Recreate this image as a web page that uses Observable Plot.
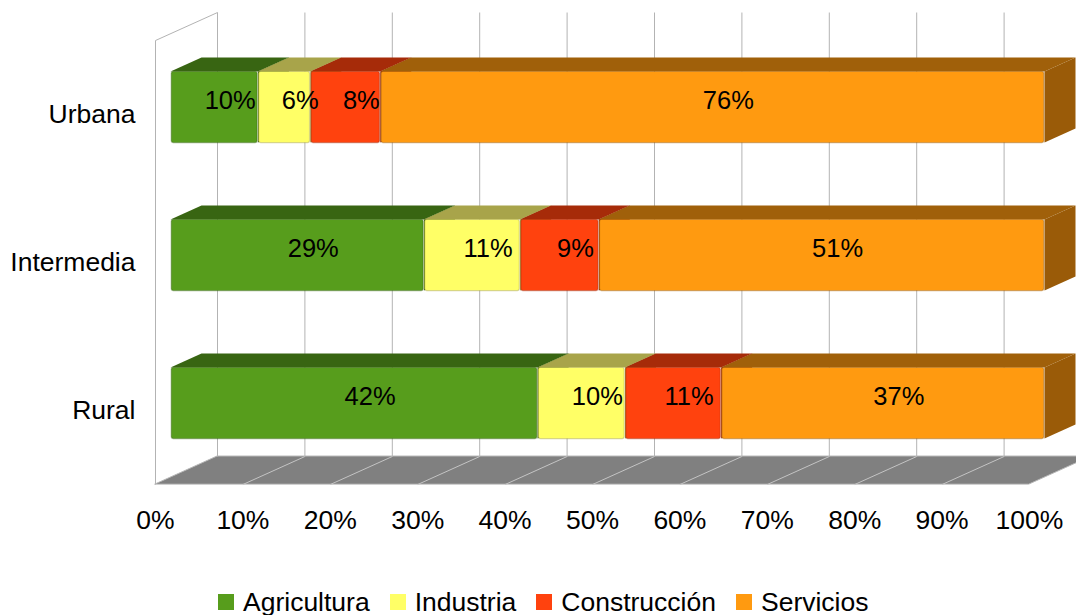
<!DOCTYPE html>
<html>
<head>
<meta charset="utf-8">
<script src="https://cdn.jsdelivr.net/npm/d3@7"></script>
<script src="https://cdn.jsdelivr.net/npm/@observablehq/plot@0.6"></script>
<style>
  html, body { margin: 0; background: #fff; font-family: "Liberation Sans", Arial, sans-serif; overflow: hidden; }
  #chart svg { display: block; }
  #legend { display: flex; align-items: center; height: 32px; line-height: 32px; padding-left: 218px; font-size: 26.5px; color: #000; }
  #legend .item { display: flex; align-items: center; margin-right: 20px; }
  #legend .sw { width: 16px; height: 16px; margin-right: 9px; }
</style>
</head>
<body>
<div id="chart"></div>
<div id="legend"></div>
<script>
// ---- data ----
const categories = ["Urbana", "Intermedia", "Rural"];
const sectors = ["Agricultura", "Industria", "Construcción", "Servicios"];
const agricultura = [10, 29, 42];
const industria = [6, 11, 10];
const construccion = [8, 9, 11];
const servicios = [76, 51, 37];
const xTicks = [0, 10, 20, 30, 40, 50, 60, 70, 80, 90, 100];
const xTickLabels = ["0%", "10%", "20%", "30%", "40%", "50%", "60%", "70%", "80%", "90%", "100%"];

// ---- styles ----
const frontColors = ["#579d1c", "#ffff66", "#ff420e", "#ff9a10"];
const topColors = ["#386512", "#a8a44a", "#a62b09", "#a0600a"];
const sideColors = ["#35600f", "#a09c40", "#9c2808", "#9a5b08"];

const series = [agricultura, industria, construccion, servicios];

// 3D geometry (in data units)
const DX = 7.094;   // full depth shift along x (percent units)
const DY = 0.189;   // full depth shift along y (category units)
const dA = 0.25, dB = 0.75; // bar depth range
const H = 0.24;     // half bar thickness
const nCat = categories.length;

const segs = [];
categories.forEach((c, i) => {
  let acc = 0;
  const yc = nCat - 0.5 - i;
  series.forEach((s, k) => {
    const v = s[i];
    segs.push({cat: c, sector: sectors[k], k, v, x0: acc, x1: acc + v, yc});
    acc += v;
  });
});

const topPts = [], sidePts = [];
segs.forEach((d, j) => {
  topPts.push({id: j, k: d.k, y: d.yc + H + dA * DY, xa: d.x0 + dA * DX, xb: d.x1 + dA * DX});
  topPts.push({id: j, k: d.k, y: d.yc + H + dB * DY, xa: d.x0 + dB * DX, xb: d.x1 + dB * DX});
  sidePts.push({id: j, k: d.k, x: d.x1 + dA * DX, ya: d.yc - H + dA * DY, yb: d.yc + H + dA * DY});
  sidePts.push({id: j, k: d.k, x: d.x1 + dB * DX, ya: d.yc - H + dB * DY, yb: d.yc + H + dB * DY});
});

const floorPts = [
  {y: 0, xa: 0, xb: 100},
  {y: DY, xa: DX, xb: 100 + DX}
];
const ticks = xTicks.map((t, i) => ({t, label: xTickLabels[i]}));
const catRows = categories.map((c, i) => ({c, yc: nCat - 0.5 - i}));

const plot = Plot.plot({
  width: 1076,
  height: 586,
  margin: 0,
  x: {domain: [0, 100], range: [155, 1029], axis: null},
  y: {domain: [0, 3], range: [484, 40], axis: null},
  style: {fontFamily: "'Liberation Sans', Arial, sans-serif", background: "#fff"},
  marks: [
    // floor
    Plot.areaX(floorPts, {y: "y", x1: "xa", x2: "xb", fill: "#808080", stroke: "#b8b8b8", strokeWidth: 1}),
    Plot.link(ticks.filter(d => d.t > 0 && d.t < 100), {x1: "t", y1: 0, x2: d => d.t + DX, y2: DY, stroke: "#c4c4c4", strokeWidth: 1}),
    // back wall grid
    Plot.link(ticks, {x1: d => d.t + DX, y1: DY, x2: d => d.t + DX, y2: 3 + DY, stroke: "#b3b3b3", strokeWidth: 1}),
    // left wall outline
    Plot.link([0], {x1: 0, y1: 0, x2: 0, y2: 3, stroke: "#b3b3b3", strokeWidth: 1}),
    Plot.link([0], {x1: 0, y1: 3, x2: DX, y2: 3 + DY, stroke: "#b3b3b3", strokeWidth: 1}),
    // bar side faces
    Plot.areaY(sidePts, {x: "x", y1: "ya", y2: "yb", z: "id", fill: d => sideColors[d.k]}),
    // bar top faces
    Plot.areaX(topPts, {y: "y", x1: "xa", x2: "xb", z: "id", fill: d => topColors[d.k]}),
    // bar front faces
    Plot.rect(segs, {
      x1: d => d.x0 + dA * DX, x2: d => d.x1 + dA * DX,
      y1: d => d.yc - H + dA * DY, y2: d => d.yc + H + dA * DY,
      fill: d => frontColors[d.k], stroke: d => topColors[d.k], strokeOpacity: 0.45, strokeWidth: 1.2,
      insetLeft: 0.8, insetRight: 0.8, rx: 2
    }),
    // value labels
    Plot.text(segs, {
      x: d => (d.x0 + d.x1) / 2 + 0.5 * DX, y: d => d.yc + 0.5 * DY,
      text: d => d.v + "%", fontSize: 25.5, fill: "#000"
    }),
    // category labels
    Plot.text(catRows, {x: 0, y: "yc", text: "c", textAnchor: "end", dx: -20, fontSize: 26.5, fill: "#000"}),
    // x tick labels
    Plot.text(ticks, {x: "t", y: -0.24, text: "label", fontSize: 26.5, fill: "#000"})
  ]
});
document.getElementById("chart").appendChild(plot);

// legend
const legend = document.getElementById("legend");
sectors.forEach((s, k) => {
  const item = document.createElement("div");
  item.className = "item";
  const sw = document.createElement("span");
  sw.className = "sw";
  sw.style.background = frontColors[k];
  const tx = document.createElement("span");
  tx.textContent = s;
  item.appendChild(sw);
  item.appendChild(tx);
  legend.appendChild(item);
});
</script>
</body>
</html>
